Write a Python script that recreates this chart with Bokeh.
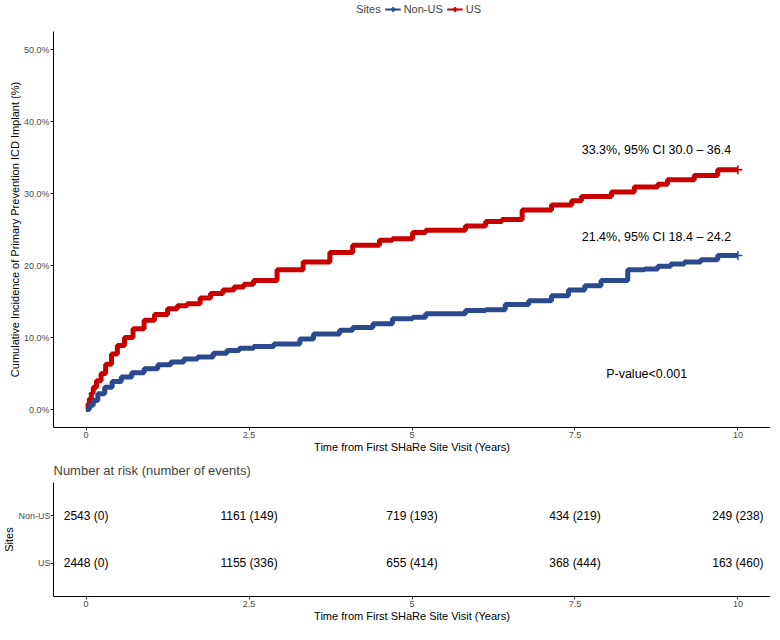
from bokeh.plotting import figure
from bokeh.models import (ColumnDataSource, Legend, LegendItem, Label, LabelSet,
                          FixedTicker, FactorRange, Range1d)
from bokeh.layouts import column
from bokeh.core.properties import value
from bokeh.embed import file_html
from bokeh.resources import INLINE

FONT = "Liberation Sans"
RED = "#C80000"
BLUE = "#2B4A8D"
TICK_GRAY = "#4D4D4D"

# ---- cumulative incidence (%) ----
us_time = [0, 0.03, 0.05, 0.08, 0.11, 0.16, 0.23, 0.3, 0.39, 0.48, 0.59, 0.72, 0.89,
           1.05, 1.25, 1.4, 1.55, 1.75, 1.91, 2.1, 2.27, 2.42, 2.57,
           2.93, 3.33, 3.74, 4.09, 4.5, 4.7, 5.01, 5.21, 5.82, 6.13, 6.38, 6.69,
           7.14, 7.45, 7.6, 8.06, 8.41, 8.77, 8.92, 9.33, 9.69, 10.0]
us_pct = [0, 0.8, 1.5, 2.3, 3.1, 4.0, 5.0, 6.3, 7.7, 8.9, 10.0, 11.2, 12.4,
          13.2, 14.0, 14.4, 14.7, 15.5, 16.1, 16.6, 17.0, 17.4, 17.9,
          19.4, 20.5, 21.8, 22.8, 23.5, 23.7, 24.6, 24.9, 25.5, 26.1, 26.4, 27.7,
          28.4, 29.0, 29.6, 30.2, 30.9, 31.3, 31.9, 32.5, 33.3, 33.3]

nonus_time = [0, 0.05, 0.11, 0.18, 0.285, 0.4, 0.54, 0.7, 0.89, 1.1, 1.3, 1.5, 1.71,
              1.95, 2.16, 2.35, 2.57, 2.88, 3.28, 3.49,
              3.89, 4.09, 4.4, 4.7, 5.01, 5.21, 5.82, 6.13, 6.43, 6.79, 7.14, 7.4,
              7.65, 7.9, 8.31, 8.57, 8.77, 8.97, 9.18, 9.43, 9.69, 10.0]
nonus_pct = [0, 0.6, 1.25, 2.2, 3.1, 3.9, 4.5, 5.1, 5.65, 6.2, 6.6, 7.0, 7.3,
             7.8, 8.2, 8.5, 8.75, 9.1, 9.8, 10.5,
             11.0, 11.4, 11.9, 12.6, 12.8, 13.3, 13.75, 13.85, 14.6, 15.1, 15.8, 16.6,
             17.2, 17.9, 19.4, 19.5, 19.9, 20.2, 20.5, 20.8, 21.4, 21.4]

us_label = "33.3%, 95% CI 30.0 \u2013 36.4"
nonus_label = "21.4%, 95% CI 18.4 \u2013 24.2"
p_label = "P-value<0.001"

# ---- risk table ----
sites = ["Non-US", "US"]
site_colors = ["#3B5A9A", "#C81E1E"]
risk_times = [0, 2.5, 5, 7.5, 10]
nonus_at_risk = [2543, 1161, 719, 434, 249]
nonus_events = [0, 149, 193, 219, 238]
us_at_risk = [2448, 1155, 655, 368, 163]
us_events = [0, 336, 414, 444, 460]

x_ticks = [0, 2.5, 5, 7.5, 10]
x_tick_labels = ["0", "2.5", "5", "7.5", "10"]
y_ticks = [0, 10, 20, 30, 40, 50]

x_title = "Time from First SHaRe Site Visit (Years)"
y_title = "Cumulative Incidence of Primary Prevention ICD Implant (%)"
legend_title = "Sites"

W = 770
BL, BR = 47, 0


def style_axes(fig):
    fig.outline_line_color = None
    fig.xgrid.visible = False
    fig.ygrid.visible = False
    for ax in (fig.xaxis, fig.yaxis):
        ax.axis_line_color = "black"
        ax.axis_line_width = 1
        ax.major_tick_line_color = "#333333"
        ax.major_tick_in = 0
        ax.major_tick_out = 3
        ax.minor_tick_line_color = None
        ax.major_label_text_font = FONT
        ax.major_label_text_font_size = "9px"
        ax.major_label_text_color = TICK_GRAY
        ax.axis_label_text_font = FONT
        ax.axis_label_text_font_size = "11px"
        ax.axis_label_text_font_style = "normal"
        ax.axis_label_text_color = "black"
        ax.major_label_standoff = 1
        ax.axis_label_standoff = 0
    fig.xaxis.ticker = FixedTicker(ticks=x_ticks)
    fig.xaxis.major_label_overrides = dict(zip(x_ticks, x_tick_labels))
    fig.xaxis.axis_label = x_title


# ---- legend strip ----
p0 = figure(width=W, height=18, x_range=Range1d(0, 1), y_range=Range1d(0, 1),
            output_backend="svg", toolbar_location=None,
            min_border_left=BL, min_border_right=BR, min_border_top=0, min_border_bottom=0)
p0.axis.visible = False
p0.grid.visible = False
p0.outline_line_color = None
# legend proxies: one point placed outside the strip's visible range
blank = p0.scatter([2], [2], marker="square", size=1, fill_alpha=0, line_alpha=0)
lg_non_l = p0.line([2, 3], [2, 3], line_color=BLUE, line_width=2)
lg_non_c = p0.scatter([2], [2], marker="cross", size=11, line_color=BLUE, line_width=2)
lg_us_l = p0.line([2, 3], [2, 3], line_color=RED, line_width=2)
lg_us_c = p0.scatter([2], [2], marker="cross", size=11, line_color=RED, line_width=2)
legend = Legend(
    items=[LegendItem(label=legend_title, renderers=[blank]),
           LegendItem(label="Non-US", renderers=[lg_non_l, lg_non_c]),
           LegendItem(label="US", renderers=[lg_us_l, lg_us_c])],
    orientation="horizontal", location="center",
    border_line_color=None, background_fill_alpha=0,
    padding=0, margin=0, spacing=4, glyph_width=16, glyph_height=12, label_height=12,
    label_standoff=3, label_text_font=FONT, label_text_font_size="11px",
)
p0.add_layout(legend, "center")

# ---- main figure ----
p = figure(width=W, height=437, x_range=Range1d(-0.5, 10.5), y_range=Range1d(-2.5, 52.5),
           output_backend="svg", toolbar_location=None,
           min_border_left=BL, min_border_right=BR, min_border_top=13, min_border_bottom=24)
style_axes(p)
p.yaxis.ticker = FixedTicker(ticks=y_ticks)
p.yaxis.major_label_overrides = {t: f"{t:.1f}%" for t in y_ticks}
p.yaxis.axis_label = y_title

p.step(us_time, us_pct, mode="after", line_color=RED, line_width=5)
p.step(nonus_time, nonus_pct, mode="after", line_color=BLUE, line_width=5)
p.scatter(us_time[-1:], us_pct[-1:], marker="cross", size=9, line_color=RED, line_width=1.5)
p.scatter(nonus_time[-1:], nonus_pct[-1:], marker="cross", size=9, line_color=BLUE, line_width=1.5)

label_x = risk_times[-1] - 1.25
for txt, yv in ((us_label, us_pct[-1] + 2.7), (nonus_label, nonus_pct[-1] + 2.5)):
    p.add_layout(Label(x=label_x, y=yv, text=txt, text_align="center", text_baseline="middle",
                       text_font=FONT, text_font_size="12.5px", text_color="black"))
p.add_layout(Label(x=8.6, y=5.0, text=p_label, text_align="center", text_baseline="middle",
                   text_font=FONT, text_font_size="12.5px", text_color="black"))

# ---- risk table figure ----
p2 = figure(width=W, height=169, x_range=p.x_range,
            y_range=FactorRange(factors=["US", "Non-US"], range_padding=0.2,
                                range_padding_units="absolute"),
            output_backend="svg", toolbar_location=None,
            min_border_left=BL, min_border_right=BR, min_border_top=26, min_border_bottom=20)
style_axes(p2)
p2.xaxis.major_label_text_line_height = 0.8
p2.xaxis.axis_label_text_line_height = 0.8
p2.yaxis.major_label_overrides = {s: " " for s in sites}
p2.yaxis.major_label_standoff = 0
p2.yaxis.axis_label = "Sites"
p2.yaxis.axis_label_standoff = 0
p2.title.text = "Number at risk (number of events)"
p2.title.text_font = FONT
p2.title.text_font_size = "13px"
p2.title.text_font_style = "normal"
p2.title.align = "left"

tbl_x, tbl_y, tbl_txt = [], [], []
for site, risk, ev in (("Non-US", nonus_at_risk, nonus_events), ("US", us_at_risk, us_events)):
    for t, r, e in zip(risk_times, risk, ev):
        tbl_x.append(t)
        tbl_y.append(site)
        tbl_txt.append(f"{r} ({e})")
p2.text(x="x", y="y", text="t", source=ColumnDataSource(dict(x=tbl_x, y=tbl_y, t=tbl_txt)),
        text_align="center", text_baseline="middle", text_font=value(FONT),
        text_font_size="12px", text_color="black")

for site, col in zip(sites, site_colors):
    src = ColumnDataSource(dict(x=[p.x_range.start], y=[site]))
    p2.add_layout(LabelSet(x="x", y="y", text="y", source=src, x_offset=-6,
                           text_align="right", text_baseline="middle", text_font=value(FONT),
                           text_font_size="10px", text_color=col))

layout = column(p0, p, p2, spacing=0)
open("out.html", "w").write(file_html(layout, INLINE))
